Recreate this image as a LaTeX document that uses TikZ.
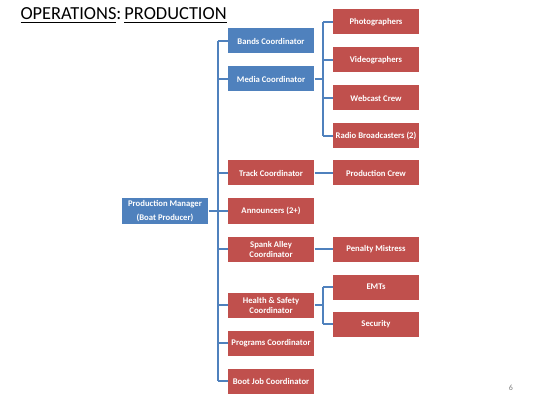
\documentclass[tikz,border=0pt]{standalone}
\usepackage{fontspec}
\setmainfont{Carlito}
\definecolor{officeblue}{HTML}{4F81BD}
\definecolor{officered}{HTML}{C0504D}
\tikzset{every picture/.style={line width=0.75pt}}
\tikzset{
  bluebox/.style={fill=officeblue, text=white, font=\fontsize{6.5}{7.5}\selectfont\bfseries,
    minimum width=64.5pt, minimum height=18.75pt, inner sep=0.75pt, align=center},
  redbox/.style={bluebox, fill=officered},
  link/.style={draw=officeblue, line width=1.1pt},
}

\begin{document}
\begin{tikzpicture}[x=0.75pt,y=0.75pt,yscale=-1,xscale=1]
  \useasboundingbox (0,0) rectangle (547,410);

  % Title
  \node (title) at (20,20) [anchor=base west, inner sep=0pt, font=\fontsize{13.8}{16}\selectfont] {\underline{OPERATIONS}:\,\underline{PRODUCTION}};

  % Production Manager
  \node (pm) at (165,211) [bluebox, font=\fontsize{6.5}{10}\selectfont\bfseries] {Production Manager\\(Boat Producer)};

  % Coordinators
  \node (bands) at (271,41) [bluebox] {Bands Coordinator};
  \node (media) at (271,79) [bluebox] {Media Coordinator};
  \node (track) at (271,173) [redbox] {Track Coordinator};
  \node (announcers) at (271,211) [redbox] {Announcers (2+)};
  \node (spank) at (271,249) [redbox] {Spank Alley\\Coordinator};
  \node (health) at (271,305) [redbox] {Health \& Safety\\Coordinator};
  \node (programs) at (271,343) [redbox] {Programs Coordinator};
  \node (bootjob) at (271,381) [redbox] {Boot Job Coordinator};

  % Crews
  \node (photo) at (376,22) [redbox] {Photographers};
  \node (video) at (376,60) [redbox] {Videographers};
  \node (webcast) at (376,98) [redbox] {Webcast Crew};
  \node (radio) at (376,136) [redbox] {Radio Broadcasters (2)};
  \node (crew) at (376,173) [redbox] {Production Crew};
  \node (penalty) at (376,249) [redbox] {Penalty Mistress};
  \node (emts) at (376,287) [redbox] {EMTs};
  \node (security) at (376,324) [redbox] {Security};

  % Bars
  \coordinate (trunk) at (218,0);
  \coordinate (mbar) at (323,0);

  % Connectors
  \draw[link] (pm.east) -- (pm.east -| trunk);
  \draw[link] (trunk |- bands.west) -- (trunk |- bootjob.west);
  \foreach \n in {bands,media,track,announcers,spank,health,programs,bootjob}
    \draw[link] (trunk |- \n.west) -- (\n.west);

  \draw[link] (media.east) -- (media.east -| mbar);
  \draw[link] (mbar |- photo.west) -- (mbar |- radio.west);
  \foreach \n in {photo,video,webcast,radio}
    \draw[link] (mbar |- \n.west) -- (\n.west);

  \draw[link] (track.east) -- (crew.west);
  \draw[link] (spank.east) -- (penalty.west);

  \draw[link] (health.east) -- (health.east -| mbar);
  \draw[link] (mbar |- emts.west) -- (mbar |- security.west);
  \foreach \n in {emts,security}
    \draw[link] (mbar |- \n.west) -- (\n.west);

  % Page number
  \node (page) at (511,388) [text=gray, font=\fontsize{6}{7}\selectfont] {6};
\end{tikzpicture}
\end{document}
